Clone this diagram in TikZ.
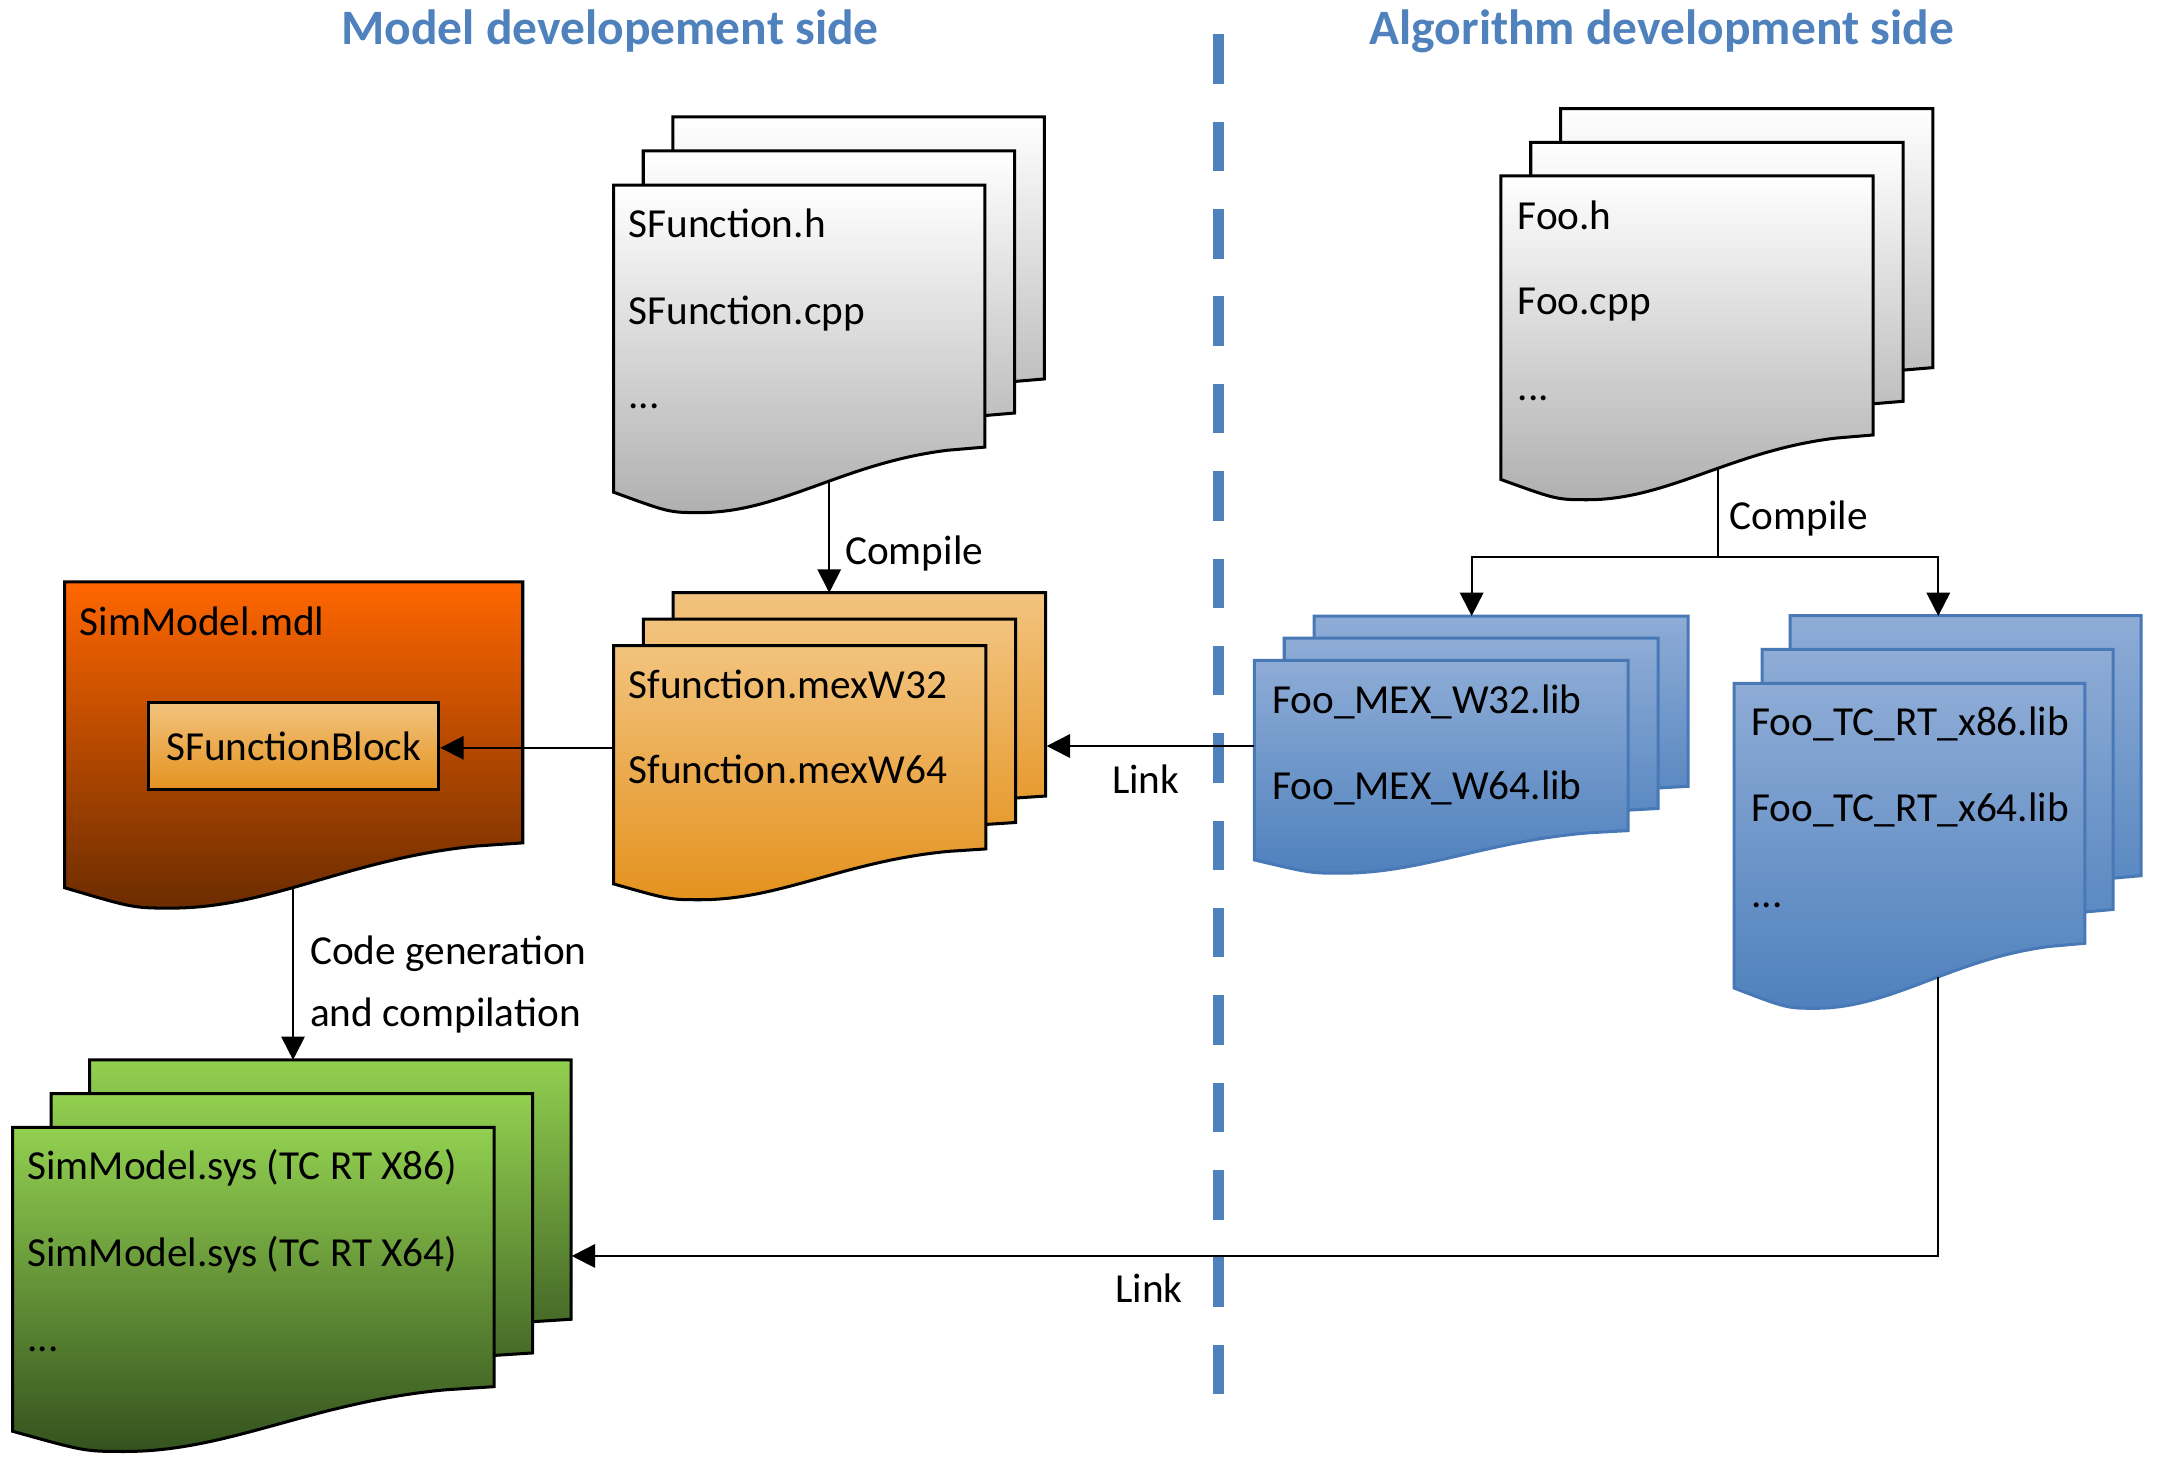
\documentclass[tikz,border=0pt]{standalone}
\usepackage{fontspec}
\setmainfont{Carlito}
\usetikzlibrary{arrows.meta,calc}

\definecolor{titleblue}{RGB}{79,129,189}
\definecolor{libtop}{RGB}{142,172,214}
\definecolor{libbot}{RGB}{79,129,189}
\definecolor{libline}{RGB}{72,120,182}
\definecolor{srcgray}{RGB}{176,176,176}
\definecolor{mexlight}{RGB}{242,195,126}
\definecolor{mexdark}{RGB}{228,146,30}
\definecolor{mdltop}{RGB}{255,102,0}
\definecolor{mdlbot}{RGB}{108,44,0}
\definecolor{systop}{RGB}{146,208,80}
\definecolor{sysbot}{RGB}{52,82,30}

\tikzset{
  srcdoc/.style={draw=black, line width=1.1pt, top color=white, bottom color=srcgray},
  mexdoc/.style={draw=black, line width=1.1pt, top color=mexlight, bottom color=mexdark},
  mdldoc/.style={draw=black, line width=1.1pt, top color=mdltop, bottom color=mdlbot},
  sysdoc/.style={draw=black, line width=1.1pt, top color=systop, bottom color=sysbot},
  libdoc/.style={draw=libline, line width=1.1pt, top color=libtop, bottom color=libbot},
  sheet/.style 2 args={anchor=north west, inner sep=0, minimum width={#1*0.5pt}, minimum height={#2*0.5pt}},
  txt/.style={anchor=base west, inner sep=0, font=\fontsize{15pt}{18pt}\selectfont},
  title/.style={anchor=base, inner sep=0, text=titleblue, font=\fontsize{18pt}{22pt}\selectfont\bfseries},
  block/.style={draw=black, line width=1.1pt, top color=mexlight, bottom color=mexdark,
    minimum width=105.5pt, minimum height=31.5pt, inner sep=0, font=\fontsize{15pt}{18pt}\selectfont},
  conn/.style={draw, line width=0.75pt},
  flow/.style={conn, -{Triangle[length=8.5pt,width=8.5pt]}},
  sidesep/.style={draw=titleblue, line width=4pt, dash pattern=on 18pt off 13.75pt}
}

% one sheet with a wavy bottom: style, x, y, width, height
\newcommand{\onedoc}[5]{%
  \path[#1] ({#2},{#3}) -- ({#2+#4},{#3}) -- ({#2+#4},{#3+#5})
    -- ({#2+0.9*#4},{#3+1.012*#5})
    .. controls ({#2+0.62*#4},{#3+1.06*#5}) and ({#2+0.45*#4},{#3+1.25*#5})
    .. ({#2+0.233*#4},{#3+1.25*#5})
    .. controls ({#2+0.15*#4},{#3+1.25*#5}) .. ({#2},{#3+1.172*#5}) -- cycle;}

% stack of three sheets: name, style, x, y, width, height of the front one
\newcommand{\multidoc}[6]{%
  \onedoc{#2}{#3+0.16*#5}{#4-0.26*#6}{#5}{#6}
  \onedoc{#2}{#3+0.08*#5}{#4-0.13*#6}{#5}{#6}
  \onedoc{#2}{#3}{#4}{#5}{#6}
  \node[sheet={#5}{#6}] (#1) at ({#3},{#4}) {};
  \node[sheet={#5}{#6}] (#1-back) at ({#3+0.16*#5},{#4-0.26*#6}) {};}

\begin{document}
\begin{tikzpicture}[x=0.5pt, y=-0.5pt]
  \useasboundingbox (0,0) rectangle (1568,1065);

  % titles and the dividing line
  \node[title] (modelside) at (443.5,32) {Model developement side};
  \node[title] (algoside) at (1208,32) {Algorithm development side};
  \coordinate (septop) at (886,25);
  \coordinate (sepbot) at (886,1015);
  \draw[sidesep] (septop) -- (sepbot);

  % model side
  \multidoc{sfsrc}{srcdoc}{446}{134.5}{270}{190.5}
  \node[txt] (sfsrc-h) at (456.5,173) {SFunction.h};
  \node[txt] (sfsrc-cpp) at (456.5,236) {SFunction.cpp};
  \node[txt] (sfsrc-etc) at (456.5,297) {...};

  \multidoc{mex}{mexdoc}{446}{469.3}{270.7}{147.8}
  \node[txt] (mex-32) at (456.6,507.6) {Sfunction.mexW32};
  \node[txt] (mex-64) at (456.6,569.4) {Sfunction.mexW64};

  \onedoc{mdldoc}{47}{423}{333}{189.7}
  \node[txt] (simmdl) at (57.6,462.3) {SimModel.mdl};
  \node[block] (sfblock) at (213.5,542.5) {SFunctionBlock};

  \multidoc{sysbin}{sysdoc}{9.2}{819.5}{350}{188.5}
  \node[txt] (sysbin-86) at (19.5,857.7) {SimModel.sys (TC RT X86)};
  \node[txt] (sysbin-64) at (19.5,920.7) {SimModel.sys (TC RT X64)};
  \node[txt] (sysbin-etc) at (19.5,982.5) {...};

  % algorithm side
  \multidoc{foosrc}{srcdoc}{1091.1}{127.9}{270.6}{188.3}
  \node[txt] (foosrc-h) at (1102.8,166.7) {Foo.h};
  \node[txt] (foosrc-cpp) at (1102.8,228.5) {Foo.cpp};
  \node[txt] (foosrc-etc) at (1102.8,290.8) {...};

  \multidoc{mexlib}{libdoc}{911.8}{480}{271.8}{123.8}
  \node[txt] (mexlib-32) at (924.4,518.5) {Foo\_MEX\_W32.lib};
  \node[txt] (mexlib-64) at (924.4,581) {Foo\_MEX\_W64.lib};

  \multidoc{tclib}{libdoc}{1260.5}{496.7}{255.1}{189}
  \node[txt] (tclib-86) at (1272.6,535) {Foo\_TC\_RT\_x86.lib};
  \node[txt] (tclib-64) at (1272.6,597.3) {Foo\_TC\_RT\_x64.lib};
  \node[txt] (tclib-etc) at (1272.6,659.6) {...};

  % connectors
  \coordinate (sfsrcout) at (602.8,349.8);
  \coordinate (foosrcout) at (1248.6,340.7);
  \coordinate (fork) at (1248.6,405);
  \coordinate (mexlibin) at (1069.8,447.8);
  \coordinate (tclibin) at (1409,447.8);
  \coordinate (simmdlout) at (213,645.1);
  \coordinate (tclibout) at (1409,710.3);
  \coordinate (sysbinin) at (415.6,913);

  \draw[flow] (sfsrcout) -- (sfsrcout |- mex-back.north);
  \draw[flow] (mex.west) -- (mex.west -| sfblock.east);
  \draw[flow] (mexlib.west) -- (mexlib.west -| mex-back.east);
  \draw[conn] (foosrcout) -- (fork);
  \draw[flow] (fork) -| (mexlibin);
  \draw[flow] (fork) -| (tclibin);
  \draw[flow] (simmdlout) -- (simmdlout |- sysbin-back.north);
  \draw[flow] (tclibout) |- (sysbinin);

  \node[txt] (compile-m) at (614,410) {Compile};
  \node[txt] (compile-a) at (1257,385) {Compile};
  \node[txt] (link-mex) at (808,577) {Link};
  \node[txt] (codegen) at (225,701) {Code generation};
  \node[txt] (codegen2) at (225,746) {and compilation};
  \node[txt] (link-sys) at (810.5,947) {Link};
\end{tikzpicture}
\end{document}
